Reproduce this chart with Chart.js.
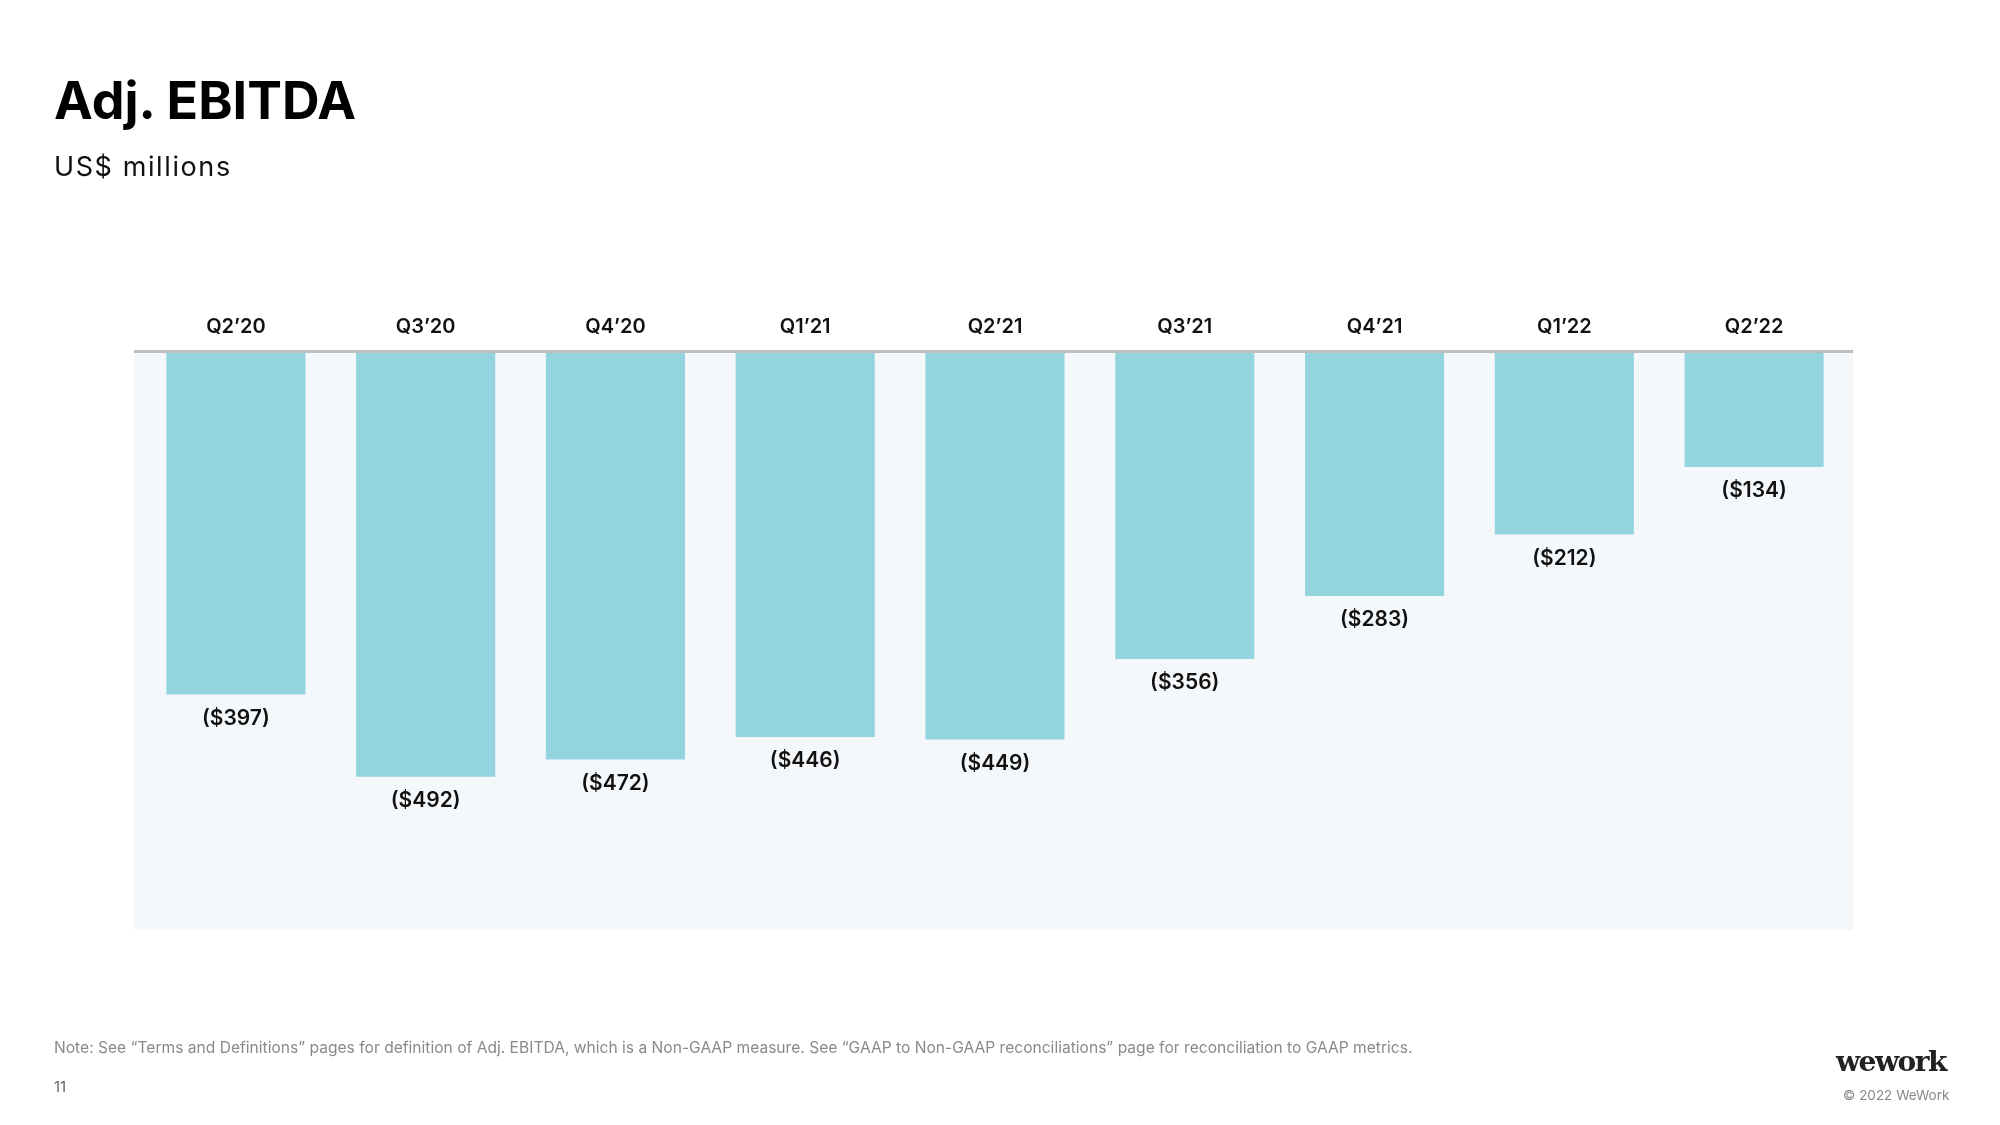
<!DOCTYPE html>
<html>
<head>
<meta charset="utf-8">
<script src="https://cdn.jsdelivr.net/npm/chart.js@4.4.1/dist/chart.umd.min.js"></script>
<style>
  html, body { margin: 0; padding: 0; background: #ffffff; }
  body { width: 2000px; height: 1125px; position: relative; overflow: hidden; font-family: Inter, "Noto Sans", sans-serif; }
  #wrap { position: absolute; left: 0; top: 0; width: 2000px; height: 1125px; }
  .t { position: absolute; white-space: nowrap; line-height: 1; }
  #title { left: 54px; top: 75px; font-size: 52px; font-weight: 700; color: #000; letter-spacing: 0px; }
  #sub { left: 54px; top: 153px; font-size: 27px; font-weight: 400; color: #111; letter-spacing: 1.6px; }
  #note { left: 54px; top: 1040px; font-size: 15.6px; color: #8a8a8a; }
  #page { left: 54px; top: 1079px; font-size: 15px; color: #666; }
  #logo { left: 1836px; top: 1048px; font-size: 28px; font-weight: 700; color: #222; font-family: "DejaVu Serif", "Liberation Serif", serif; letter-spacing: -1.5px; }
  #copy { left: 1843px; top: 1089px; font-size: 13.5px; color: #888; }
</style>
</head>
<body>
<div id="wrap"><canvas id="c" width="2000" height="1125"></canvas></div>
<div class="t" id="title">Adj. EBITDA</div>
<div class="t" id="sub">US$ millions</div>
<div class="t" id="note">Note: See “Terms and Definitions” pages for definition of Adj. EBITDA, which is a Non-GAAP measure. See “GAAP to Non-GAAP reconciliations” page for reconciliation to GAAP metrics.</div>
<div class="t" id="page">11</div>
<div class="t" id="logo">wework</div>
<div class="t" id="copy">© 2022 WeWork</div>
<script>
const categories = ["Q2’20", "Q3’20", "Q4’20", "Q1’21", "Q2’21", "Q3’21", "Q4’21", "Q1’22", "Q2’22"];
const ebitda = [-397, -492, -472, -446, -449, -356, -283, -212, -134];
const valueLabels = ["($397)", "($492)", "($472)", "($446)", "($449)", "($356)", "($283)", "($212)", "($134)"];

const panelPlugin = {
  id: 'panel',
  beforeDraw(chart) {
    const { ctx, chartArea: a } = chart;
    ctx.save();
    ctx.fillStyle = '#F5F8FB';
    ctx.fillRect(a.left - 7, a.top, (a.right + 4) - (a.left - 7), a.bottom - a.top);
    ctx.restore();
  },
  afterDatasetsDraw(chart) {
    const { ctx, chartArea: a } = chart;
    ctx.save();
    ctx.strokeStyle = '#BDBDBD';
    ctx.lineWidth = 3;
    ctx.beginPath();
    ctx.moveTo(a.left - 7, a.top + 0.5);
    ctx.lineTo(a.right + 4, a.top + 0.5);
    ctx.stroke();
    const meta = chart.getDatasetMeta(0);
    ctx.fillStyle = '#111111';
    ctx.font = '600 21px Inter, "Noto Sans", sans-serif';
    ctx.textAlign = 'center';
    ctx.textBaseline = 'middle';
    meta.data.forEach((bar, i) => {
      ctx.fillText(valueLabels[i], bar.x, bar.y + 24);
    });
    ctx.restore();
  }
};

new Chart(document.getElementById('c'), {
  type: 'bar',
  data: {
    labels: categories,
    datasets: [{
      data: ebitda,
      backgroundColor: '#93D4DF',
      borderWidth: 0,
      barPercentage: 0.733,
      categoryPercentage: 1.0
    }]
  },
  options: {
    responsive: false,
    animation: false,
    devicePixelRatio: 1,
    layout: { padding: { top: 301, left: 141, right: 151, bottom: 195 } },
    plugins: { legend: { display: false }, tooltip: { enabled: false }, title: { display: false } },
    scales: {
      x: {
        position: 'top',
        grid: { display: false },
        border: { display: false },
        ticks: { color: '#111', font: { family: 'Inter, "Noto Sans", sans-serif', size: 20, weight: '600' }, padding: 4, maxRotation: 0 },
        afterFit(scale) { scale.height = 50; }
      },
      y: {
        display: false,
        min: -669,
        max: 0
      }
    }
  },
  plugins: [panelPlugin]
});
</script>
</body>
</html>
